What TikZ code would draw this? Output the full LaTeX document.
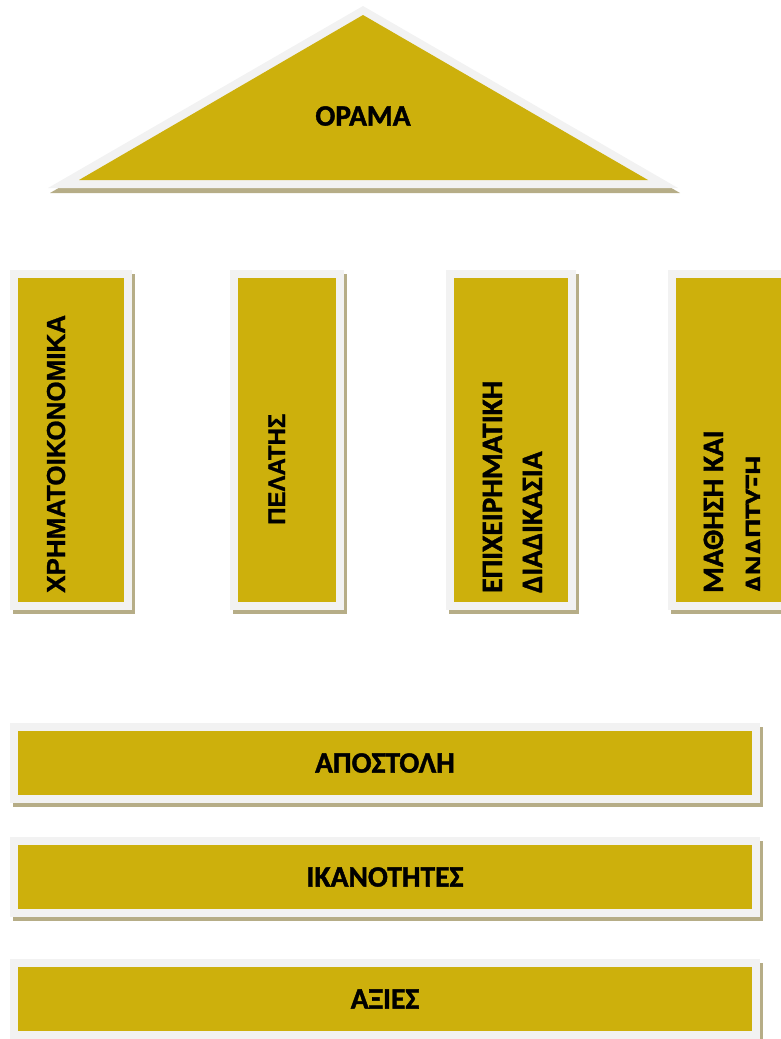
\documentclass[tikz,border=0pt]{standalone}
\usepackage{fontspec}
\setmainfont{Carlito}
\newfontfamily\heavy{Carlito Bold}[FakeBold=1.4]
\newfontfamily\heavysans{Liberation Sans Bold}[FakeBold=1]
\usetikzlibrary{backgrounds}
\definecolor{gold}{RGB}{205,176,12}
\definecolor{rim}{RGB}{242,242,242}
\definecolor{shadowtan}{RGB}{182,173,135}

\begin{document}
\begin{tikzpicture}[x=1pt,y=-1pt,
  block/.style={rectangle, draw=rim, fill=gold, line width=8pt, inner sep=0pt, outer sep=4pt},
  title/.style={font=\heavy\fontsize{29.5}{35}\selectfont},
  upright/.style={rotate=90, anchor=base west, inner sep=0pt, font=\heavy\fontsize{29.5}{35}\selectfont},
  upsans/.style={upright, font=\heavysans\fontsize{26}{31}\selectfont}
]
\useasboundingbox (0,0) rectangle (780,1039);

\coordinate (apex) at (363,6);
\coordinate (left) at (48,188);
\coordinate (right) at (678,188);
\fill [shadowtan] ([xshift=2pt,yshift=-5pt]apex) -- ([xshift=2pt,yshift=-5pt]left) -- ([xshift=2pt,yshift=-5pt]right) -- cycle;
\fill [rim] (apex) -- (left) -- (right) -- cycle;
\fill [gold] (363,15) -- (79,180) -- (648,180) -- cycle;
\node [title] (vision) at (363,116) {ΟΡΑΜΑ};

\node [block, minimum width=114pt, minimum height=332pt] (pilFin) at (71,440) {};
\node [block, minimum width=106pt, minimum height=332pt] (pilCust) at (287,440) {};
\node [block, minimum width=122pt, minimum height=332pt] (pilProc) at (511,440) {};
\node [block, minimum width=114pt, minimum height=332pt] (pilLearn) at (729,440) {};

\node [block, title, minimum width=742pt, minimum height=72pt] (mission) at (385,763) {ΑΠΟΣΤΟΛΗ};
\node [block, title, minimum width=742pt, minimum height=72pt] (skills) at (385,877) {ΙΚΑΝΟΤΗΤΕΣ};
\node [block, title, minimum width=742pt, minimum height=72pt] (values) at (385,999) {ΑΞΙΕΣ};

\begin{scope}[on background layer]
\foreach \n in {pilFin,pilCust,pilProc,pilLearn,mission,skills,values}
{
\fill [shadowtan] ([xshift=3pt,yshift=-4pt]\n.south west) rectangle ([xshift=3pt,yshift=-4pt]\n.north east);
}
\end{scope}

\node [upsans] (finText) at (65,593) {ΧΡΗΜΑΤΟΙΚΟΝΟΜΙΚΑ};
\node [upsans, font=\heavysans\fontsize{24}{29}\selectfont] (custText) at (285,525) {ΠΕΛΑΤΗΣ};
\node [upright] (procTextA) at (502,593) {ΕΠΙΧΕΙΡΗΜΑΤΙΚΗ};
\node [upright] (procTextB) at (542,593) {ΔΙΑΔΙΚΑΣΙΑ};
\node [upright] (learnTextA) at (723,593) {ΜΑΘΗΣΗ ΚΑΙ};
\begin{scope}
\clip (0,0) rectangle (760,1039);
\node [upright] (learnTextB) at (765,593) {ΑΝΑΠΤΥΞΗ};
\end{scope}
\end{tikzpicture}
\end{document}
